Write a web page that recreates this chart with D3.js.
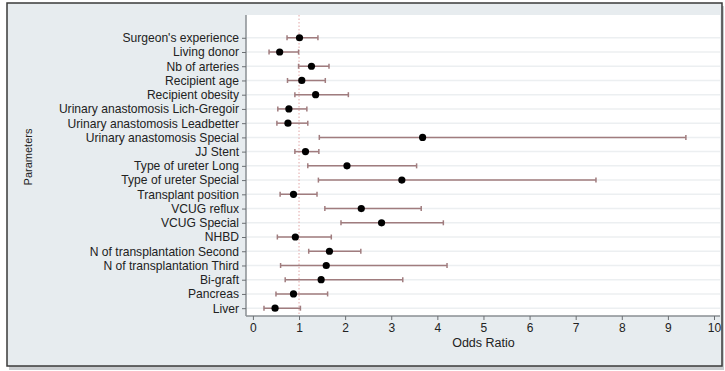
<!DOCTYPE html>
<html>
<head>
<meta charset="utf-8">
<script src="https://cdn.jsdelivr.net/npm/d3@7/dist/d3.min.js"></script>
<style>
  body { margin: 0; background: #ffffff; }
  text { font-family: "Liberation Sans", Arial, sans-serif; }
</style>
</head>
<body>
<div id="chart"></div>
<script>
// parameters, top to bottom
var params = ["Surgeon's experience", "Living donor", "Nb of arteries", "Recipient age",
  "Recipient obesity", "Urinary anastomosis Lich-Gregoir", "Urinary anastomosis Leadbetter",
  "Urinary anastomosis Special", "JJ Stent", "Type of ureter Long", "Type of ureter Special",
  "Transplant position", "VCUG reflux", "VCUG Special", "NHBD",
  "N of transplantation Second", "N of transplantation Third", "Bi-graft", "Pancreas", "Liver"]

// odds ratios and 95% CI
var oddsRatio = [1.01, 0.58, 1.27, 1.06, 1.36, 0.78, 0.76, 3.68, 1.14, 2.04, 3.23,
  0.88, 2.35, 2.79, 0.92, 1.66, 1.59, 1.48, 0.88, 0.48]
var ciLow = [0.74, 0.35, 0.99, 0.75, 0.91, 0.54, 0.52, 1.44, 0.91, 1.19, 1.42,
  0.59, 1.56, 1.91, 0.53, 1.21, 0.60, 0.70, 0.50, 0.24]
var ciHigh = [1.41, 0.99, 1.65, 1.57, 2.07, 1.17, 1.19, 9.39, 1.43, 3.55, 7.44,
  1.39, 3.65, 4.13, 1.70, 2.34, 4.21, 3.25, 1.62, 1.03]
var xTicks = [0, 1, 2, 3, 4, 5, 6, 7, 8, 9, 10]

var W = 725, H = 371
var plot = {left: 246, right: 720, top: 15, bottom: 316}

var data = params.map(function(p, i) {
  return {name: p, idx: i, or: oddsRatio[i], lo: ciLow[i], hi: ciHigh[i]}
})

var svg = d3.select("#chart").append("svg")
  .attr("width", W).attr("height", H)

// outer panel with frame and shadow
svg.append("rect")
  .attr("x", 9).attr("y", 6).attr("width", 715).attr("height", 364)
  .attr("fill", "#c9cccf")
svg.append("rect")
  .attr("x", 7).attr("y", 3).attr("width", 715).attr("height", 363)
  .attr("fill", "#e7ecef")
  .attr("stroke", "#3a3a3a").attr("stroke-width", 1.5)

// plot region
svg.append("rect")
  .attr("x", plot.left).attr("y", plot.top)
  .attr("width", plot.right - plot.left).attr("height", plot.bottom - plot.top)
  .attr("fill", "#ffffff")

var x = d3.scaleLinear()
  .domain([-0.15, 10.13])
  .range([plot.left, plot.right])

var y = d3.scaleLinear()
  .domain([-1.6, 19.55])
  .range([plot.top, plot.bottom])

// horizontal grid
svg.append("g").selectAll("line")
  .data(data)
  .enter()
  .append("line")
  .attr("x1", plot.left).attr("x2", plot.right)
  .attr("y1", function(d) { return y(d.idx) })
  .attr("y2", function(d) { return y(d.idx) })
  .attr("stroke", "#eceff1").attr("stroke-width", 1.5)

// reference line at OR = 1
svg.append("line")
  .attr("x1", x(1)).attr("x2", x(1))
  .attr("y1", plot.top).attr("y2", plot.bottom)
  .attr("stroke", "#e3a6a6").attr("stroke-width", 1)
  .attr("stroke-dasharray", "1.5,2")

// axes
var xAxis = svg.append("g")
  .attr("transform", "translate(0," + plot.bottom + ")")
  .call(d3.axisBottom(x).tickValues(xTicks).tickSize(4).tickPadding(3).tickSizeOuter(0))
xAxis.select(".domain").attr("stroke", "#8a8f93").attr("stroke-width", 1.5)
  .attr("d", "M" + plot.left + ",0H" + plot.right)
xAxis.selectAll(".tick line").attr("stroke", "#6b6f73")
xAxis.selectAll(".tick text").attr("fill", "#222").style("font-size", "12px")

var yAxis = svg.append("g")
  .attr("transform", "translate(" + plot.left + ",0)")
  .call(d3.axisLeft(y).tickValues(d3.range(params.length)).tickSize(4).tickPadding(3)
    .tickFormat(function(i) { return params[i] }))
yAxis.select(".domain").attr("stroke", "#8a8f93").attr("stroke-width", 1.5)
  .attr("d", "M0," + plot.top + "V" + plot.bottom)
yAxis.selectAll(".tick line").attr("stroke", "#6b6f73")
yAxis.selectAll(".tick text").attr("fill", "#222").style("font-size", "12.1px")

// confidence intervals
var ci = svg.append("g").selectAll("g")
  .data(data)
  .enter()
  .append("g")
  .attr("stroke", "#a07c7e").attr("stroke-width", 1.5)

ci.append("line")
  .attr("x1", function(d) { return x(d.lo) })
  .attr("x2", function(d) { return x(d.hi) })
  .attr("y1", function(d) { return y(d.idx) })
  .attr("y2", function(d) { return y(d.idx) })
ci.append("line")
  .attr("x1", function(d) { return x(d.lo) })
  .attr("x2", function(d) { return x(d.lo) })
  .attr("y1", function(d) { return y(d.idx) - 2.5 })
  .attr("y2", function(d) { return y(d.idx) + 2.5 })
ci.append("line")
  .attr("x1", function(d) { return x(d.hi) })
  .attr("x2", function(d) { return x(d.hi) })
  .attr("y1", function(d) { return y(d.idx) - 2.5 })
  .attr("y2", function(d) { return y(d.idx) + 2.5 })

// point estimates
svg.append("g").selectAll("circle")
  .data(data)
  .enter()
  .append("circle")
  .attr("cx", function(d) { return x(d.or) })
  .attr("cy", function(d) { return y(d.idx) })
  .attr("r", 3.6)
  .attr("fill", "#000")

// axis titles
svg.append("text")
  .attr("x", x(5)).attr("y", 347)
  .attr("text-anchor", "middle")
  .attr("fill", "#222")
  .style("font-size", "12.5px")
  .text("Odds Ratio")

svg.append("text")
  .attr("transform", "translate(32,157) rotate(-90)")
  .attr("text-anchor", "middle")
  .attr("fill", "#222")
  .style("font-size", "11px")
  .text("Parameters")
</script>
</body>
</html>
